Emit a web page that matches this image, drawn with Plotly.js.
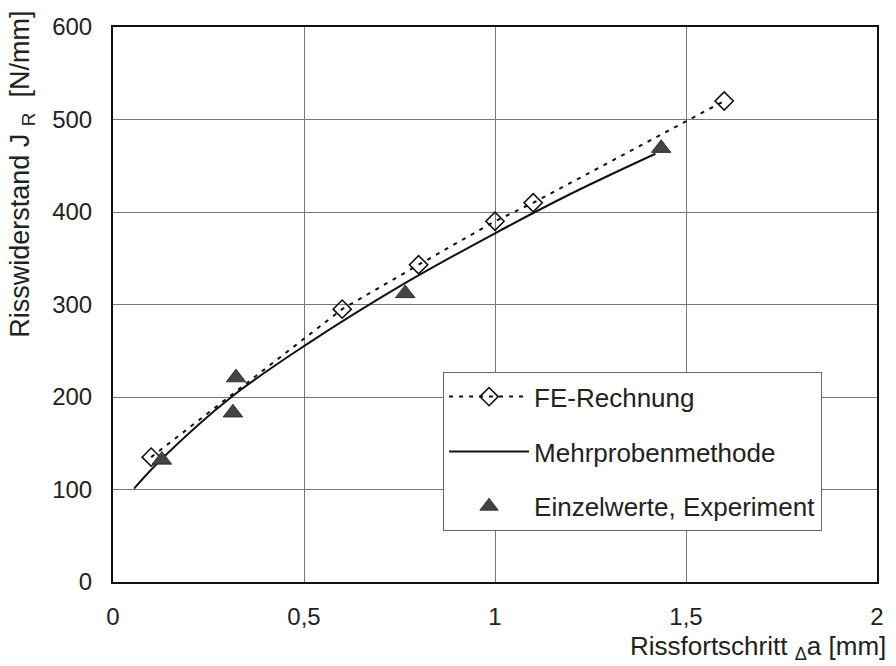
<!DOCTYPE html>
<html><head><meta charset="utf-8">
<script src="https://cdn.plot.ly/plotly-3.0.1.min.js"></script>
<style>html,body{margin:0;padding:0;background:#fff}#c{width:896px;height:666px}</style>
</head><body><div id="c"></div>
<script>
// FE-Rechnung (diamonds, dotted)
const feX = [0.1, 0.6, 0.8, 1.0, 1.1, 1.6];
const feY = [135, 295, 343, 390, 410, 520];
// Mehrprobenmethode (solid fit curve)
const mpX = [0.055, 0.13, 0.31, 0.5, 0.76, 1.0, 1.2, 1.42];
const mpY = [101, 134, 200, 255, 322, 377, 420, 463];
// Einzelwerte, Experiment (triangles)
const exX = [0.128, 0.314, 0.322, 0.765, 1.435];
const exY = [132, 183, 221, 312, 469];
const xTicks = [0, 0.5, 1, 1.5, 2];
const xTickText = ['0', '0,5', '1', '1,5', '2'];
const yTicks = [0, 100, 200, 300, 400, 500, 600];

const font = 'Liberation Sans, Arial, sans-serif';
const traces = [
  {x: feX, y: feY, name: 'FE-Rechnung', mode: 'lines+markers', legendgroup: 'a',
   line: {color: '#111', width: 2, dash: '4px,6px'},
   marker: {symbol: 'diamond-open', size: 14, color: '#111', line: {width: 1.6, color: '#111'}}},
  {x: mpX, y: mpY, name: 'Mehrprobenmethode', mode: 'lines', legendgroup: 'b',
   line: {color: '#111', width: 2, shape: 'spline'}},
  {x: exX, y: exY, name: 'Einzelwerte, Experiment', mode: 'markers', legendgroup: 'c',
   marker: {symbol: 'triangle-up', size: 17, color: '#444', line: {width: 0.8, color: '#222'}}}
];
const layout = {
  width: 896, height: 666,
  margin: {l: 113, r: 19, t: 27, b: 84},
  paper_bgcolor: '#fff', plot_bgcolor: '#fff',
  font: {family: font, color: '#222', size: 24},
  showlegend: true,
  legend: {x: 0.432, y: 0.378, xanchor: 'left', yanchor: 'top',
    bgcolor: '#fff', bordercolor: '#666', borderwidth: 1,
    font: {family: font, size: 26, color: '#222'}, itemwidth: 80,
    traceorder: 'grouped', tracegroupgap: 18},
  xaxis: {range: [0, 2], tickvals: xTicks, ticktext: xTickText, showgrid: true,
    gridcolor: '#777', gridwidth: 1, zeroline: false, showline: true, mirror: true,
    linecolor: '#111', linewidth: 2, ticks: '', ticklabelstandoff: 12,
    tickfont: {size: 24, family: font, color: '#222'}},
  yaxis: {range: [0, 600], tickvals: yTicks, showgrid: true, gridcolor: '#777', gridwidth: 1,
    zeroline: false, showline: true, mirror: true, linecolor: '#111', linewidth: 2,
    ticks: '', ticklabelstandoff: 14, tickfont: {size: 24, family: font, color: '#222'}},
  annotations: [
    {text: 'Rissfortschritt <sub>Δ</sub>a [mm]', xref: 'paper', yref: 'paper',
     x: 1.0144, y: -0.085, xanchor: 'right', yanchor: 'top', showarrow: false,
     font: {size: 26, family: font, color: '#222'}},
    {text: 'Risswiderstand J&nbsp;<sub>R</sub>&nbsp; [N/mm]', xref: 'paper', yref: 'paper',
     x: -0.119, y: 1.032, xanchor: 'center', yanchor: 'top', textangle: -90, showarrow: false,
     font: {size: 27, family: font, color: '#222'}}
  ]
};
Plotly.newPlot('c', traces, layout, {displayModeBar: false, staticPlot: true});
</script></body></html>
